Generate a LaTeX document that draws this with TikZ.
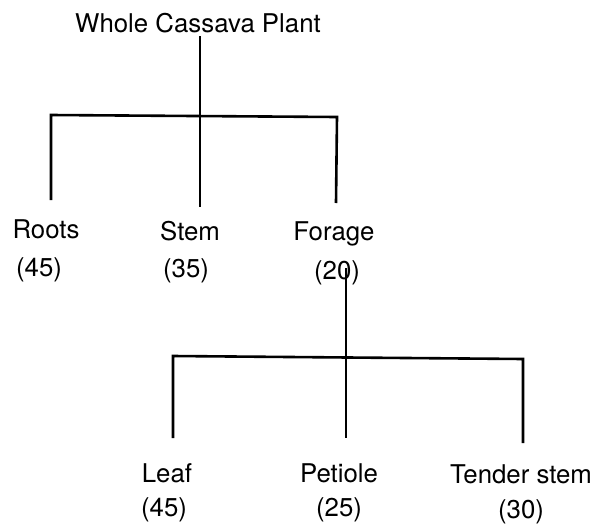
\documentclass[tikz,border=0pt]{standalone}
\usepackage{fontspec}
\setmainfont{TeX Gyre Heros}
\usepackage{tikz}
\newcommand{\lblfont}{\fontsize{12.9}{15}\selectfont}

\begin{document}
\begin{tikzpicture}[x=0.5pt, y=-0.5pt, line width=1.3pt,
	lbl/.style={anchor=base, inner sep=0pt, font=\lblfont}]
	\useasboundingbox (0,0) rectangle (600,525);

	% first level
	\node[lbl] (plant) at (198,32) {Whole Cassava Plant};
	\node[lbl] (roots) at (46,238) {Roots};
	\node[lbl] (rootsval) at (39,276) {(45)};
	\node[lbl] (stem) at (190,240) {Stem};
	\node[lbl] (stemval) at (186,277) {(35)};
	\node[lbl] (forage) at (334,240) {Forage};
	\node[lbl] (forageval) at (337,279) {(20)};

	\coordinate (plantfoot) at (200,36);
	\coordinate (stemtop) at (200,207);
	\coordinate (barleft) at (51,115);
	\coordinate (barright) at (337,117);
	\coordinate (rootstop) at (51,200);
	\coordinate (foragetop) at (336,203);
	\draw (plantfoot) -- (stemtop);
	\draw (rootstop) -- (barleft) -- (barright) -- (foragetop);

	% second level
	\node[lbl] (leaf) at (167,482) {Leaf};
	\node[lbl] (leafval) at (164,516) {(45)};
	\node[lbl] (petiole) at (339,482) {Petiole};
	\node[lbl] (petioleval) at (339,516) {(25)};
	\node[lbl] (tender) at (521,483) {Tender stem};
	\node[lbl] (tenderval) at (521,518) {(30)};

	\coordinate (foragefoot) at (346,268);
	\coordinate (petioletop) at (346,438);
	\coordinate (subleft) at (173,356);
	\coordinate (subright) at (523,359);
	\coordinate (leaftop) at (173,438);
	\coordinate (tendertop) at (523,443);
	\draw (foragefoot) -- (petioletop);
	\draw (leaftop) -- (subleft) -- (subright) -- (tendertop);

\end{tikzpicture}
\end{document}
